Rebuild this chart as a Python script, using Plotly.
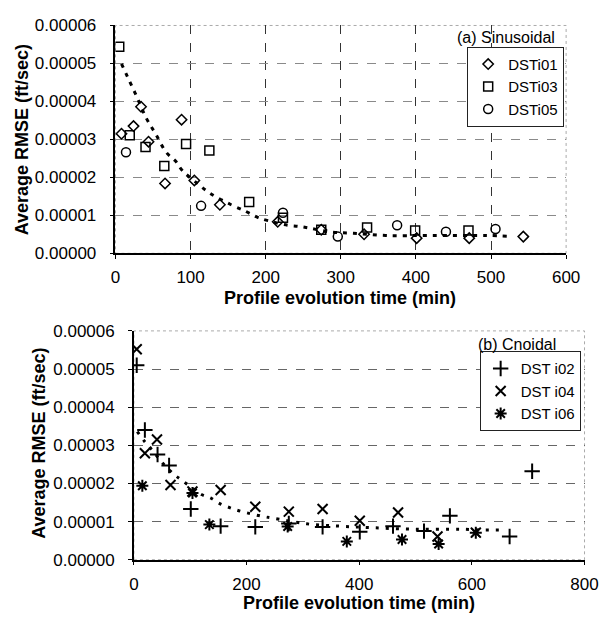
import plotly.graph_objects as go

# ---------------- data (RMSE in ft/sec) ----------------
# (a) Sinusoidal
dsti01_x = [8, 24, 34, 44, 66, 88, 105, 139, 216, 274, 331, 401, 471, 543]
dsti01_y = [3.15e-5, 3.35e-5, 3.86e-5, 2.94e-5, 1.84e-5, 3.52e-5, 1.92e-5, 1.28e-5,
            0.83e-5, 0.62e-5, 0.50e-5, 0.40e-5, 0.40e-5, 0.44e-5]
dsti03_x = [5, 19, 40, 65, 94, 125, 178, 223, 274, 335, 399, 470]
dsti03_y = [5.44e-5, 3.11e-5, 2.80e-5, 2.30e-5, 2.88e-5, 2.71e-5, 1.35e-5, 0.94e-5,
            0.62e-5, 0.68e-5, 0.60e-5, 0.60e-5]
dsti05_x = [14, 114, 223, 296, 375, 440, 506]
dsti05_y = [2.66e-5, 1.25e-5, 1.07e-5, 0.44e-5, 0.74e-5, 0.57e-5, 0.64e-5]
trend_a_x = [8, 16, 28, 41, 53, 68, 80, 89, 109, 126, 154, 173, 190, 203, 229, 244,
             259, 287, 317, 360, 420, 494, 524]
trend_a_y = [4.99e-5, 4.65e-5, 4.14e-5, 3.56e-5, 3.16e-5, 2.65e-5, 2.43e-5, 2.18e-5,
             1.84e-5, 1.58e-5, 1.28e-5, 1.11e-5, 0.94e-5, 0.86e-5, 0.74e-5, 0.71e-5,
             0.66e-5, 0.56e-5, 0.53e-5, 0.47e-5, 0.47e-5, 0.47e-5, 0.45e-5]

# (b) Cnoidal
dsti02_x = [5, 19.5, 42, 62.5, 101, 154, 215.5, 275, 335, 401, 460, 515, 561, 667, 707]
dsti02_y = [5.10e-5, 3.40e-5, 2.76e-5, 2.47e-5, 1.33e-5, 0.88e-5, 0.86e-5, 0.95e-5,
            0.86e-5, 0.73e-5, 0.88e-5, 0.75e-5, 1.15e-5, 0.61e-5, 2.32e-5]
dsti04_x = [5, 19.5, 41, 65, 104, 154, 215.5, 275, 335, 401, 469, 539, 607]
dsti04_y = [5.52e-5, 2.79e-5, 3.15e-5, 1.96e-5, 1.79e-5, 1.83e-5, 1.39e-5, 1.26e-5,
            1.33e-5, 1.02e-5, 1.24e-5, 0.61e-5, 0.71e-5]
dsti06_x = [15, 104, 134, 273, 378, 476, 541, 607]
dsti06_y = [1.94e-5, 1.75e-5, 0.92e-5, 0.87e-5, 0.48e-5, 0.53e-5, 0.41e-5, 0.71e-5]
trend_b_x = [6, 19, 31, 50, 71, 86.5, 120, 136, 152.5, 171, 190, 227, 247, 307, 365,
             422, 499, 580, 614, 660]
trend_b_y = [3.36e-5, 3.10e-5, 2.90e-5, 2.55e-5, 2.24e-5, 2.07e-5, 1.71e-5, 1.62e-5,
             1.47e-5, 1.36e-5, 1.27e-5, 1.14e-5, 1.09e-5, 0.94e-5, 0.88e-5, 0.84e-5,
             0.80e-5, 0.80e-5, 0.78e-5, 0.78e-5]

y_ticks = [0, 1e-5, 2e-5, 3e-5, 4e-5, 5e-5, 6e-5]
x_ticks_a = [0, 100, 200, 300, 400, 500, 600]
x_ticks_b = [0, 200, 400, 600, 800]

FONT = "Arial, Liberation Sans, sans-serif"
BLACK = "black"

W, H = 615, 624


def fx(px):
    return px / W


def fy(py):
    return 1 - py / H


fig = go.Figure()


def open_marker(symbol, size, lw=1.5):
    return dict(symbol=symbol, size=size, color=BLACK, line=dict(color=BLACK, width=lw))


def thin_marker(symbol, size, lw=2):
    return dict(symbol=symbol, size=size, color=BLACK, line=dict(color=BLACK, width=lw))


# top trend
fig.add_trace(go.Scatter(x=trend_a_x, y=trend_a_y, mode="lines", line_shape="spline",
                         line=dict(color=BLACK, width=3, dash="4px,6px"),
                         showlegend=False, xaxis="x", yaxis="y", hoverinfo="skip"))
fig.add_trace(go.Scatter(x=dsti01_x, y=dsti01_y, mode="markers", name="DSTi01",
                         marker=open_marker("diamond-open", 8), xaxis="x", yaxis="y",
                         legend="legend"))
fig.add_trace(go.Scatter(x=dsti03_x, y=dsti03_y, mode="markers", name="DSTi03",
                         marker=open_marker("square-open", 9), xaxis="x", yaxis="y",
                         legend="legend"))
fig.add_trace(go.Scatter(x=dsti05_x, y=dsti05_y, mode="markers", name="DSTi05",
                         marker=open_marker("circle-open", 9), xaxis="x", yaxis="y",
                         legend="legend"))

# bottom trend
fig.add_trace(go.Scatter(x=trend_b_x, y=trend_b_y, mode="lines", line_shape="spline",
                         line=dict(color=BLACK, width=3, dash="3px,7px"),
                         showlegend=False, xaxis="x2", yaxis="y2", hoverinfo="skip"))
fig.add_trace(go.Scatter(x=dsti02_x, y=dsti02_y, mode="markers", name="DST i02",
                         marker=thin_marker("cross-thin", 11), xaxis="x2", yaxis="y2",
                         legend="legend2"))
fig.add_trace(go.Scatter(x=dsti04_x, y=dsti04_y, mode="markers", name="DST i04",
                         marker=thin_marker("x-thin", 10), xaxis="x2", yaxis="y2",
                         legend="legend2"))
fig.add_trace(go.Scatter(x=dsti06_x, y=dsti06_y, mode="markers", name="DST i06",
                         marker=thin_marker("asterisk", 10), xaxis="x2", yaxis="y2",
                         legend="legend2"))

tick_font = dict(family=FONT, size=17, color=BLACK)

common_y = dict(range=[0, 6e-5], tickvals=y_ticks, tickformat=".5f",
                showline=True, linecolor=BLACK, linewidth=1.5, ticks="outside",
                ticklen=4, tickcolor=BLACK, tickfont=tick_font, zeroline=False,
                showgrid=True, griddash="dash", gridwidth=1, ticklabelstandoff=10)
common_x = dict(showline=True, linecolor=BLACK, linewidth=1.5, ticks="outside",
                ticklen=4, tickcolor=BLACK, tickfont=tick_font, zeroline=False,
                ticklabelstandoff=4)

legend_font = dict(family=FONT, size=15, color=BLACK)


def label(text, x, y, size=16, bold=False, angle=0):
    t = "<b>%s</b>" % text if bold else text
    return dict(text=t, xref="paper", yref="paper", x=fx(x), y=fy(y),
                xanchor="center", yanchor="middle", textangle=angle,
                showarrow=False, font=dict(family=FONT, size=size, color=BLACK))


fig.update_layout(
    width=W, height=H,
    margin=dict(l=0, r=0, t=0, b=0),
    paper_bgcolor="white", plot_bgcolor="white",
    font=dict(family=FONT, color=BLACK),
    xaxis=dict(domain=[fx(114), fx(579)], anchor="y", range=[0, 600],
               tickvals=x_ticks_a, showgrid=True, griddash="dash",
               gridcolor="#333333", gridwidth=1, **common_x),
    yaxis=dict(domain=[fy(252), fy(17)], anchor="x",
               gridcolor="#8a8a8a", **common_y),
    xaxis2=dict(domain=[fx(133), fx(598)], anchor="y2", range=[0, 800],
                tickvals=x_ticks_b, showgrid=False, **common_x),
    yaxis2=dict(domain=[fy(568), fy(332)], anchor="x2",
                gridcolor="#666666", **common_y),
    legend=dict(x=fx(577), y=fy(39), xanchor="right", yanchor="top",
                bordercolor="#222222", borderwidth=1, bgcolor="white",
                font=legend_font, itemwidth=30, tracegroupgap=0),
    legend2=dict(x=fx(594), y=fy(353), xanchor="right", yanchor="top",
                 bordercolor="#222222", borderwidth=1, bgcolor="white",
                 font=legend_font, itemwidth=30, tracegroupgap=0),
    shapes=[
        dict(type="rect", xref="x domain", yref="y domain", x0=0, x1=1, y0=0, y1=1,
             line=dict(color="#aaaaaa", width=1, dash="dot"), layer="below"),
        dict(type="rect", xref="x2 domain", yref="y2 domain", x0=0, x1=1, y0=0, y1=1,
             line=dict(color="#aaaaaa", width=1, dash="dot"), layer="below"),
    ],
    annotations=[
        label("(a) Sinusoidal", 516.7, 29, 16),
        label("(b) Cnoidal", 528, 346, 16),
        label("Average RMSE (ft/sec)", 17, 135, 18, True, -90),
        label("Average RMSE (ft/sec)", 35, 447.5, 18, True, -90),
        label("Profile evolution time (min)", 346, 298, 18, True),
        label("Profile evolution time (min)", 365.5, 613, 18, True),
    ],
)

fig.write_html(
    "out.html",
    config={"displayModeBar": False},
    post_script="document.body.style.margin='0';document.body.style.overflow='hidden';",
)
